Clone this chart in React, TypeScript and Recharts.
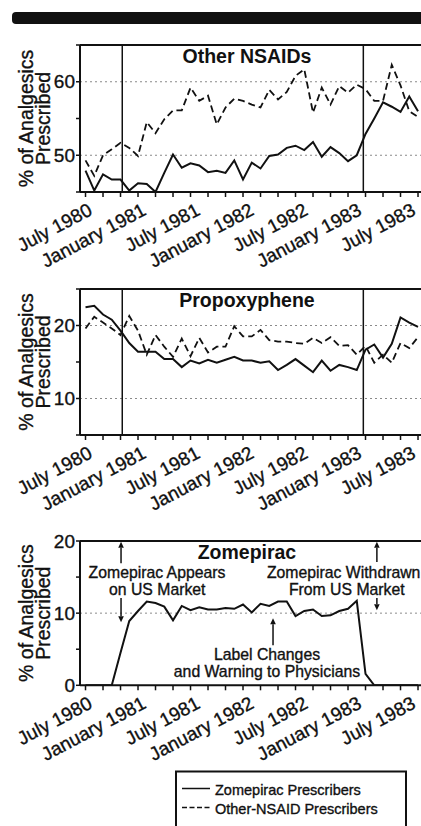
import React from 'react';
import { LineChart, Line, XAxis, YAxis, ReferenceLine, ReferenceDot } from 'recharts';

// months since July 1980
const months = [
  0, 1, 2, 3, 4, 5, 6, 7, 8, 9, 10, 11, 12, 13, 14, 15, 16, 17, 18, 19,
  20, 21, 22, 23, 24, 25, 26, 27, 28, 29, 30, 31, 32, 33, 34, 35, 36, 37, 38,
];
const tickMonths = [0, 2, 4, 6, 8, 10, 12, 14, 16, 18, 20, 22, 24, 26, 28, 30, 32, 34, 36, 38, 40, 42];
const labelMonths = [0, 6, 12, 18, 24, 30, 36];
const monthLabels = ['July 1980', 'January 1981', 'July 1981', 'January 1982', 'July 1982', 'January 1983', 'July 1983'];

const seriesNames = ['Zomepirac Prescribers', 'Other-NSAID Prescribers'];

// Other NSAIDs
const nsaidZomepirac = [
  47.9, 45.2, 47.4, 46.7, 46.7, 45.2, 46.2, 46.1, 45.0, 47.6, 50.1, 48.3, 48.9, 48.6, 47.7, 47.9, 47.6, 49.3, 46.7, 49.0,
  48.2, 49.9, 50.1, 51.0, 51.3, 50.7, 51.8, 49.8, 51.1, 50.3, 49.2, 50.0, 52.9, 55.0, 57.2, 56.6, 55.9, 58.0, 56.0,
];
const nsaidOther = [
  49.3, 47.2, 50.0, 50.8, 51.7, 51.0, 49.9, 54.5, 53.0, 54.9, 56.1, 56.1, 59.2, 57.4, 58.1, 54.2, 56.5, 57.7, 57.4, 56.9,
  56.5, 58.9, 57.6, 58.6, 60.8, 61.7, 55.8, 59.2, 56.9, 59.4, 58.5, 59.6, 59.0, 57.4, 57.4, 62.3, 59.5, 56.0, 55.2,
];

// Propoxyphene
const propZomepirac = [
  22.5, 22.7, 21.5, 20.8, 19.3, 17.6, 16.4, 16.4, 16.4, 15.4, 15.4, 14.3, 15.2, 14.8, 15.3, 14.9, 15.3, 15.7, 15.2, 15.2,
  14.9, 15.1, 13.9, 14.6, 15.4, 14.5, 13.6, 15.2, 13.8, 14.6, 14.3, 13.9, 16.7, 17.4, 15.6, 17.5, 21.1, 20.4, 19.8,
];
const propOther = [
  19.6, 21.2, 20.4, 19.6, 18.7, 21.3, 19.3, 16.0, 18.7, 17.1, 15.7, 18.2, 15.8, 18.3, 16.3, 17.1, 17.1, 19.9, 18.5, 18.5,
  19.4, 18.0, 17.8, 17.8, 17.6, 17.5, 18.3, 17.6, 18.4, 17.2, 17.3, 16.0, 17.2, 14.9, 16.0, 14.9, 17.6, 16.9, 18.4,
];

// Zomepirac
const zomepiracShare = [
  0, 0, 0, 0, 4.5, 8.9, 10.3, 11.6, 11.4, 10.9, 9.0, 11.0, 10.4, 10.8, 10.5, 10.5, 10.7, 10.6, 11.2, 10.1,
  11.3, 11.0, 11.6, 11.6, 9.6, 10.3, 10.5, 9.6, 9.7, 10.3, 10.6, 11.7, 1.6, 0, 0, 0, 0, 0, 0,
];

const appearsMonth = 4.2;
const withdrawnMonth = 31.75;

const FONT = '"Liberation Sans", Arial, Helvetica, sans-serif';
const INK = '#111';
const X_DOMAIN: [number, number] = [-0.63, 43.37];
const AXIS_H = 95;
// the scanned type is a little heavier than a clean regular face
const HEAVY = { stroke: INK, strokeWidth: 0.35 };

const MonthTick = (props: any) => {
  const { x, y, payload } = props;
  const i = labelMonths.indexOf(payload.value);
  if (i < 0) return <g />;
  const ax = x + 8 + payload.value * 0.23;
  const ay = y + 15;
  return (
    <text x={ax} y={ay} textAnchor="end" transform={`rotate(-28 ${ax} ${ay})`}
      fontSize={19} fontFamily={FONT} fill={INK} {...HEAVY}>
      {monthLabels[i]}
    </text>
  );
};

const YTitle = (props: any) => {
  const vb = props.viewBox || { x: 0, y: 20, width: 80, height: 146 };
  const cy = vb.y + vb.height / 2;
  return (
    <g fontFamily={FONT} fontSize={19.5} fill={INK} textAnchor="middle" {...HEAVY}>
      <text transform={`translate(${vb.x + 33},${cy}) rotate(-90)`}>% of Analgesics</text>
      <text transform={`translate(${vb.x + 50},${cy}) rotate(-90)`}>Prescribed</text>
    </g>
  );
};

const arrowShape = (p: any) => {
  const { x1, y1, x2, y2 } = p;
  const dir = y2 < y1 ? -1 : 1;
  const head = 6;
  return (
    <g>
      <line x1={x1} y1={y1} x2={x2} y2={y2 - dir * head} stroke={INK} strokeWidth={1.5} />
      <polygon points={`${x2},${y2} ${x2 - 2.8},${y2 - dir * head} ${x2 + 2.8},${y2 - dir * head}`} fill={INK} />
    </g>
  );
};

const noteShape = (text: string, size: number, bold = false, dy = 0) => (p: any) => (
  <text x={p.cx} y={p.cy + dy} textAnchor="middle" fontSize={size} fontWeight={bold ? 'bold' : 'normal'}
    fontFamily={FONT} fill={INK} {...(bold ? {} : HEAVY)}>
    {text}
  </text>
);

type PanelProps = {
  title: string;
  solid: number[];
  dashed?: number[];
  yDomain: [number, number];
  yTicks: number[];
  yLabelled: number[];
  grid: number[];
  plotHeight: number;
  eventLines?: boolean;
  children?: React.ReactNode;
};

const Panel = ({ title, solid, dashed, yDomain, yTicks, yLabelled, grid, plotHeight, eventLines, children }: PanelProps) => {
  const rows = months.map((m, i) => ({ month: m, solid: solid[i], dashed: dashed ? dashed[i] : undefined }));
  return (
    <LineChart width={470} height={20 + plotHeight + AXIS_H} data={rows} margin={{ top: 20, right: 5, left: 0, bottom: 0 }}>
      <XAxis
        dataKey="month"
        type="number"
        domain={X_DOMAIN}
        ticks={tickMonths}
        interval={0}
        allowDataOverflow
        height={AXIS_H}
        tickSize={5}
        axisLine={{ stroke: INK, strokeWidth: 2 }}
        tickLine={{ stroke: INK, strokeWidth: 1.5 }}
        tick={<MonthTick />}
      />
      <YAxis
        type="number"
        domain={yDomain}
        ticks={yTicks}
        interval={0}
        allowDataOverflow
        width={80}
        tickSize={4}
        tickMargin={1}
        axisLine={{ stroke: INK, strokeWidth: 2 }}
        tickLine={{ stroke: INK, strokeWidth: 1.5 }}
        tickFormatter={(v: number) => (yLabelled.includes(v) ? String(v) : '')}
        tick={{ fontSize: 19, fontFamily: FONT, fill: INK, ...HEAVY }}
        label={(p: any) => <YTitle {...p} />}
      />
      {grid.map((g) => (
        <ReferenceLine key={g} y={g} stroke="#8a8a8a" strokeWidth={1} strokeDasharray="2 3" />
      ))}
      <ReferenceLine y={yDomain[1]} stroke={INK} strokeWidth={2} />
      {eventLines && <ReferenceLine x={appearsMonth} stroke={INK} strokeWidth={1.5} />}
      {eventLines && <ReferenceLine x={withdrawnMonth} stroke={INK} strokeWidth={1.5} />}
      <ReferenceDot x={18.45} y={yDomain[1]} r={0} shape={noteShape(title, 19.5, true, 18.3)} />
      {children}
      {dashed && (
        <Line type="linear" dataKey="dashed" name={seriesNames[1]} stroke={INK} strokeWidth={1.8}
          strokeDasharray="7 4" dot={false} isAnimationActive={false} />
      )}
      <Line type="linear" dataKey="solid" name={seriesNames[0]} stroke={INK} strokeWidth={2}
        dot={false} isAnimationActive={false} />
    </LineChart>
  );
};

const Legend = () => (
  <svg width={240} height={60} style={{ position: 'absolute', left: 175, top: 770 }}>
    <rect x={1} y={1.5} width={230} height={90} fill="none" stroke={INK} strokeWidth={2} />
    <line x1={7} y1={18.5} x2={35} y2={18.5} stroke={INK} strokeWidth={1.5} />
    <line x1={7} y1={37.5} x2={35} y2={37.5} stroke={INK} strokeWidth={1.5} strokeDasharray="5 2.5" />
    <text x={40} y={24.5} fontSize={14.5} fontFamily={FONT} fill={INK} {...HEAVY}>{seriesNames[0]}</text>
    <text x={40} y={43.5} fontSize={14.5} fontFamily={FONT} fill={INK} {...HEAVY}>{seriesNames[1]}</text>
  </svg>
);

const App: React.FC = () => {
  return (
    <div style={{ position: 'fixed', left: 0, top: 0, width: 421, height: 826, overflow: 'hidden', background: '#fff' }}>
      <div style={{ position: 'absolute', left: 12, top: 12, width: 420, height: 12, background: INK, borderRadius: 4 }} />
      <div style={{ position: 'absolute', left: 0, top: 25 }}>
        <Panel title="Other NSAIDs" solid={nsaidZomepirac} dashed={nsaidOther} yDomain={[45, 65]}
          yTicks={[45, 50, 55, 60, 65]} yLabelled={[50, 60]} grid={[50, 60]} plotHeight={147} eventLines />
      </div>
      <div style={{ position: 'absolute', left: 0, top: 269 }}>
        <Panel title="Propoxyphene" solid={propZomepirac} dashed={propOther} yDomain={[5, 25]}
          yTicks={[5, 10, 15, 20, 25]} yLabelled={[10, 20]} grid={[10, 20]} plotHeight={146} eventLines />
      </div>
      <div style={{ position: 'absolute', left: 0, top: 520.7 }}>
        <Panel title="Zomepirac" solid={zomepiracShare} yDomain={[0, 20]}
          yTicks={[0, 5, 10, 15, 20]} yLabelled={[0, 10, 20]} grid={[10]} plotHeight={144.3}>
          <ReferenceLine segment={[{ x: 4.06, y: 16.9 }, { x: 4.06, y: 19.9 }]} shape={arrowShape} />
          <ReferenceLine segment={[{ x: 4.06, y: 12.1 }, { x: 4.06, y: 8.75 }]} shape={arrowShape} />
          <ReferenceLine segment={[{ x: 33.3, y: 17.1 }, { x: 33.3, y: 19.9 }]} shape={arrowShape} />
          <ReferenceLine segment={[{ x: 33.3, y: 12.1 }, { x: 33.3, y: 10.4 }]} shape={arrowShape} />
          <ReferenceLine segment={[{ x: 21.43, y: 5.56 }, { x: 21.43, y: 9.3 }]} shape={arrowShape} />
          <ReferenceDot x={8.17} y={14.86} r={0} shape={noteShape('Zomepirac Appears', 15.8)} />
          <ReferenceDot x={8.2} y={12.5} r={0} shape={noteShape('on US Market', 15.8)} />
          <ReferenceDot x={29.5} y={14.86} r={0} shape={noteShape('Zomepirac Withdrawn', 15.8)} />
          <ReferenceDot x={29.86} y={12.5} r={0} shape={noteShape('From US Market', 15.8)} />
          <ReferenceDot x={20.74} y={3.47} r={0} shape={noteShape('Label Changes', 15.8)} />
          <ReferenceDot x={20.74} y={1.1} r={0} shape={noteShape('and Warning to Physicians', 15.8)} />
        </Panel>
      </div>
      <Legend />
    </div>
  );
};

export default App;
